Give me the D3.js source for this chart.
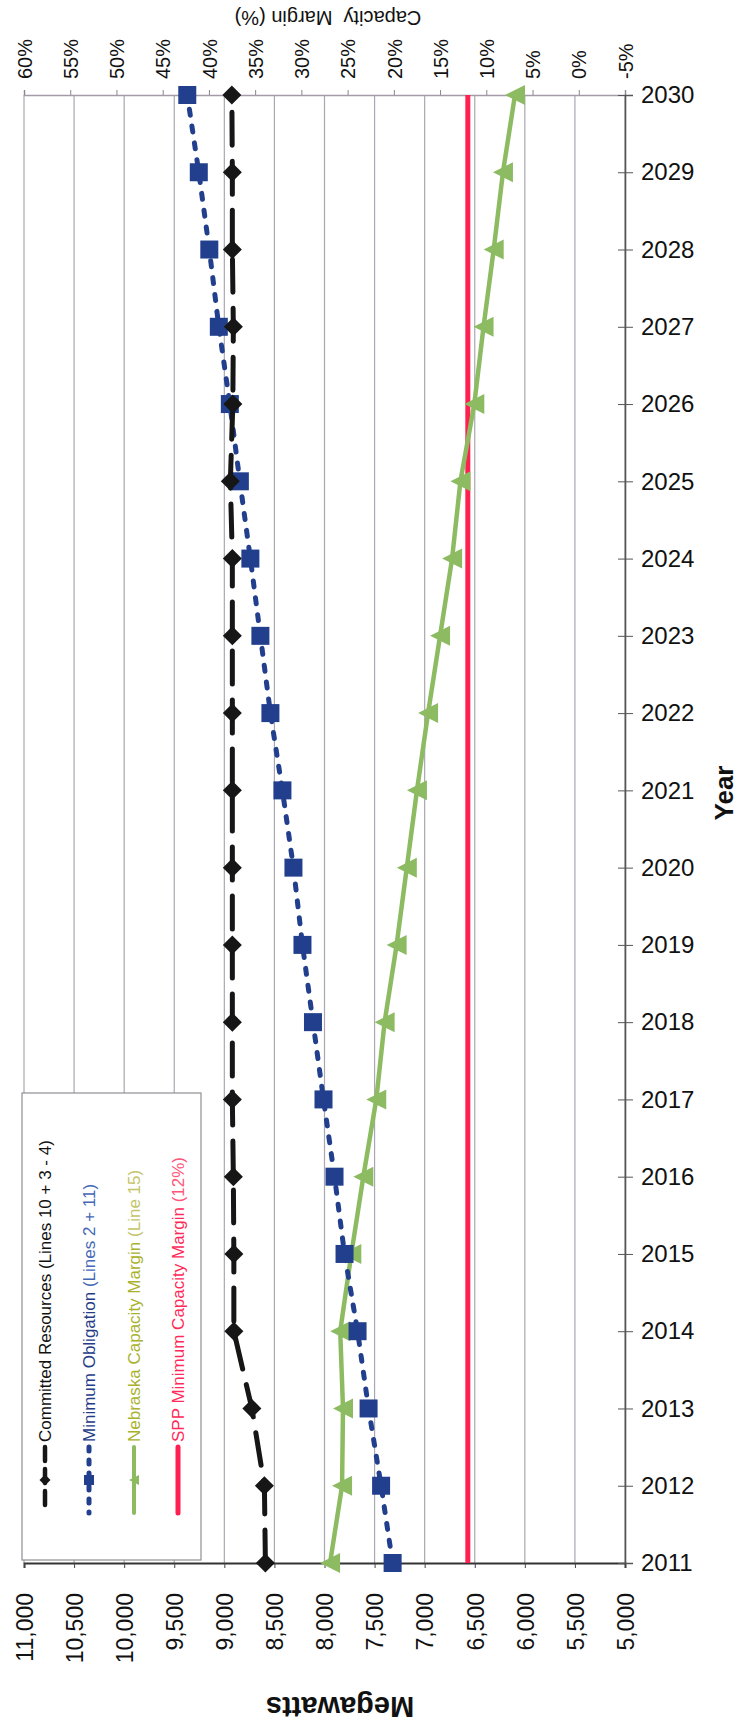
<!DOCTYPE html>
<html><head><meta charset="utf-8">
<script src="https://cdn.jsdelivr.net/npm/d3@7"></script>
<style>
body{margin:0;background:#fff}
svg{display:block}
text{font-family:"Liberation Sans",Arial,Helvetica,sans-serif}
</style>
</head><body>
<svg id="c" width="739" height="1726"></svg>
<script>
// ---------- data ----------
const years = [2011,2012,2013,2014,2015,2016,2017,2018,2019,2020,2021,2022,2023,2024,2025,2026,2027,2028,2029,2030];
const committedMW = [8590,8600,8725,8905,8905,8910,8920,8920,8920,8920,8920,8920,8920,8920,8940,8915,8910,8920,8920,8925];
const minObligationMW = [7320,7435,7560,7670,7800,7900,8010,8115,8220,8310,8420,8540,8640,8740,8845,8945,9055,9150,9255,9370];
const nebraskaMarginPct = [26.9,25.6,25.5,25.8,24.6,23.3,21.9,21.0,19.7,18.6,17.5,16.3,15.0,13.7,12.8,11.3,10.3,9.2,8.2,6.9];
const sppMinMarginPct = 12;
const mwTicks = [11000,10500,10000,9500,9000,8500,8000,7500,7000,6500,6000,5500,5000];
const pctTicks = [60,55,50,45,40,35,30,25,20,15,10,5,0,-5];
const legendItems = [
  {parts:[["Committed Resources (Lines 10 + 3 - 4)","#111"]]},
  {parts:[["Minimum Obligation ","#243b88"],["(Lines 2 + 11)","#4567b8"]]},
  {parts:[["Nebraska Capacity Margin ","#a9b22c"],["(Line 15)","#c4c46a"]]},
  {parts:[["SPP Minimum Capacity Margin ","#ff2a58"],["(12%)","#ff5577"]]}
];

// ---------- layout ----------
const L = 24, R = 625, T = 95, B = 1563;
const svg = d3.select("#c");
const yS = d3.scaleLinear().domain([2011,2030]).range([B,T]);
const xMW = d3.scaleLinear().domain([11000,5000]).range([L,R]);
const xPct = d3.scaleLinear().domain([60,-5]).range([L,R]);

const BLACK="#161616", BLUE="#213f8c", GREEN="#8cbb62", RED="#ff2052";

// gridlines
svg.append("g").selectAll("line").data(mwTicks).join("line")
  .attr("x1",d=>xMW(d)).attr("x2",d=>xMW(d)).attr("y1",T).attr("y2",B)
  .attr("stroke","#a9a7b0").attr("stroke-width",1.2);

// top axis (percent)
const topAx = svg.append("g").attr("transform",`translate(0,${T})`)
  .call(d3.axisTop(xPct).tickValues(pctTicks).tickSize(5).tickFormat(d=>d+"%"));
topAx.select(".domain").attr("stroke","#a39ca8").attr("stroke-width",1.5);
topAx.selectAll(".tick line").attr("stroke","#8a8590");
topAx.selectAll(".tick text")
  .attr("x",null).attr("y",null).attr("dy","0.36em")
  .attr("transform","translate(0,-16) rotate(-90)")
  .attr("text-anchor","start").attr("font-size",20).attr("fill","#111")
  .style("font-family","'Liberation Sans',Arial,sans-serif");

// bottom axis (MW)
const botAx = svg.append("g").attr("transform",`translate(0,${B})`)
  .call(d3.axisBottom(xMW).tickValues(mwTicks).tickSize(5).tickFormat(d3.format(",")));
botAx.select(".domain").attr("stroke","#333").attr("stroke-width",2);
botAx.selectAll(".tick line").attr("stroke","#444");
botAx.selectAll(".tick text")
  .attr("x",null).attr("y",null).attr("dy","0.36em")
  .attr("transform","translate(0,30) rotate(-90)")
  .attr("text-anchor","end").attr("font-size",23).attr("fill","#111")
  .style("font-family","'Liberation Sans',Arial,sans-serif");

// right axis (years)
const rAx = svg.append("g").attr("transform",`translate(${R},0)`)
  .call(d3.axisRight(yS).tickValues(years).tickFormat(d3.format("d")).tickSize(8));
rAx.select(".domain").attr("stroke","#555").attr("stroke-width",1.6);
rAx.selectAll(".tick line").attr("x1",-7).attr("x2",8).attr("stroke","#555");
rAx.selectAll(".tick text").attr("x",16).attr("font-size",24).attr("fill","#111")
  .style("font-family","'Liberation Sans',Arial,sans-serif");

// series
const diamond = s=>`M0,${-s}L${s},0L0,${s}L${-s},0Z`;
const triLeft = s=>`M${-s},0L${s},${-s}L${s},${s}Z`;

// red SPP min
svg.append("line").attr("x1",xPct(sppMinMarginPct)).attr("x2",xPct(sppMinMarginPct))
  .attr("y1",yS(2011)).attr("y2",yS(2030)).attr("stroke",RED).attr("stroke-width",5);

// green Nebraska
const gLine = d3.line().x(d=>xPct(d[1])).y(d=>yS(d[0]));
const gData = years.map((y,i)=>[y,nebraskaMarginPct[i]]);
svg.append("path").attr("d",gLine(gData)).attr("fill","none").attr("stroke",GREEN).attr("stroke-width",4.5);
svg.append("g").selectAll("path").data(gData).join("path")
  .attr("transform",d=>`translate(${xPct(d[1])},${yS(d[0])})`).attr("d",triLeft(10)).attr("fill",GREEN);

// blue min obligation
const mLine = d3.line().x(d=>xMW(d[1])).y(d=>yS(d[0]));
const bData = years.map((y,i)=>[y,minObligationMW[i]]);
svg.append("path").attr("d",mLine(bData)).attr("fill","none").attr("stroke",BLUE).attr("stroke-width",5)
  .attr("stroke-dasharray","6,11").attr("stroke-linecap","round");
svg.append("g").selectAll("rect").data(bData).join("rect")
  .attr("x",d=>xMW(d[1])-9).attr("y",d=>yS(d[0])-9).attr("width",18).attr("height",18).attr("fill",BLUE);

// black committed
const kData = years.map((y,i)=>[y,committedMW[i]]);
svg.append("path").attr("d",mLine(kData)).attr("fill","none").attr("stroke",BLACK).attr("stroke-width",5)
  .attr("stroke-dasharray","33,16").attr("stroke-linecap","round");
svg.append("g").selectAll("path").data(kData).join("path")
  .attr("transform",d=>`translate(${xMW(d[1])},${yS(d[0])})`).attr("d",diamond(9.5)).attr("fill",BLACK);

// legend
const lg = svg.append("g");
lg.append("rect").attr("x",22).attr("y",1093).attr("width",179).attr("height",467)
  .attr("fill","#fff").attr("stroke","#8f8f95").attr("stroke-width",1.2);
const lx = [45,89,134,178];
const styles = [
  {c:BLACK,w:4.5,dash:"14,8",m:"d"},
  {c:BLUE,w:5,dash:"4,9",m:"s"},
  {c:GREEN,w:4,dash:null,m:"t"},
  {c:RED,w:5,dash:null,m:null}
];
legendItems.forEach((it,i)=>{
  const s = styles[i], x = lx[i];
  lg.append("line").attr("x1",x).attr("x2",x).attr("y1",1447).attr("y2",1513)
    .attr("stroke",s.c).attr("stroke-width",s.w).attr("stroke-linecap","round")
    .attr("stroke-dasharray",s.dash);
  if(s.m==="d") lg.append("path").attr("transform",`translate(${x},1480)`).attr("d",diamond(5.5)).attr("fill",s.c);
  if(s.m==="s") lg.append("rect").attr("x",x-5).attr("y",1475).attr("width",10).attr("height",10).attr("fill",s.c);
  if(s.m==="t") lg.append("path").attr("transform",`translate(${x},1480)`).attr("d",triLeft(5)).attr("fill",s.c);
  const t = lg.append("text").attr("transform",`translate(${x},1442) rotate(-90)`)
    .attr("dy","0.36em").attr("font-size",17).attr("text-anchor","start").style("white-space","pre");
  it.parts.forEach(p=>t.append("tspan").attr("fill",p[1]).text(p[0]));
});

// titles
svg.append("text").attr("transform","translate(328,18) rotate(180)")
  .attr("text-anchor","middle").attr("dy","0.36em").attr("font-size",20).attr("fill","#111")
  .style("white-space","pre").text("Capacity  Margin (%)");
svg.append("text").attr("transform","translate(340,1707) rotate(180)")
  .attr("text-anchor","middle").attr("dy","0.36em").attr("font-size",29).attr("font-weight","bold").attr("fill","#111")
  .text("Megawatts");
svg.append("text").attr("transform","translate(724,793) rotate(-90)")
  .attr("text-anchor","middle").attr("dy","0.36em").attr("font-size",26).attr("font-weight","bold").attr("fill","#111")
  .text("Year");
</script>
</body></html>
